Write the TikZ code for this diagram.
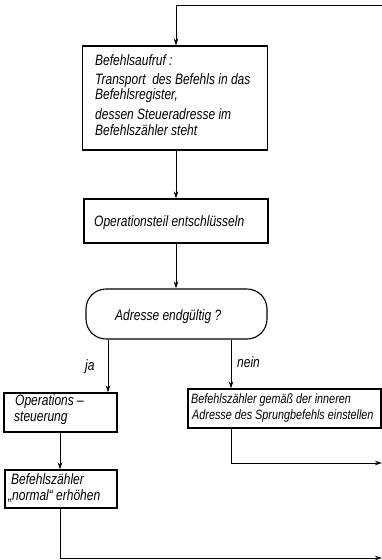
\documentclass[tikz,border=0pt]{standalone}
\usepackage{fontspec}
\newfontfamily\din[FakeStretch=0.8]{Liberation Sans}
\usetikzlibrary{arrows.meta}
\begin{document}
\begin{tikzpicture}[x=1pt,y=-1pt,
  box/.style={draw, line width=1.1pt, inner sep=0pt},
  txt/.style={font=\din\itshape\fontsize{15}{17}\selectfont, anchor=base west, inner sep=0pt},
  stxt/.style={font=\din\itshape\fontsize{13.5}{15}\selectfont, anchor=base west, inner sep=0pt},
  conn/.style={line width=0.9pt},
  arr/.style={conn, -{Stealth[length=7pt,width=4.5pt]}}]
\useasboundingbox (0,0) rectangle (382,560);
% boxes
\node[box, minimum width=185pt, minimum height=104pt] (auf) at (175,98) {};
\node[txt] (t1) at (95,65) {Befehlsaufruf :};
\node[txt] (t2) at (95,84) {Transport\ \ des Befehls in das};
\node[txt] (t3) at (95,99) {Befehlsregister,};
\node[txt] (t4) at (95,119) {dessen Steueradresse im};
\node[txt] (t5) at (95,135) {Befehlszähler steht};

\node[box, minimum width=184pt, minimum height=44pt] (ops2) at (176,221) {};
\node[txt] (t6) at (94,226) {Operationsteil entschlüsseln};

\node[box, rounded corners=20pt, minimum width=181pt, minimum height=50pt] (dec) at (176.5,314) {};
\node[txt] (t7) at (115,320) {Adresse endgültig ?};

\node[txt] (ja) at (85,370) {ja};
\node[txt] (nein) at (237,367) {nein};

\node[box, minimum width=113pt, minimum height=39pt] (ops) at (60.5,412.5) {};
\node[txt] (t8) at (15,405) {Operations –};
\node[txt] (t9) at (14,421) {steuerung};

\node[box, minimum width=193pt, minimum height=39pt] (sprung) at (284.5,408.5) {};
\node[stxt] (t10) at (191,403) {Befehlszähler gemäß der inneren};
\node[stxt] (t11) at (192,419) {Adresse des Sprungbefehls einstellen};

\node[box, minimum width=112pt, minimum height=38pt] (norm) at (61,489) {};
\node[txt] (t12) at (11,484) {Befehlszähler};
\node[txt] (t13) at (8,500) {„normal“ erhöhen};

% helper coordinates
\coordinate (cx) at (176,0);
\coordinate (jx) at (108,0);
\coordinate (nx) at (231,0);
\coordinate (lx) at (60,0);
\coordinate (topR) at (382,5);
\coordinate (outA) at (382,463);
\coordinate (outB) at (382,558);

% connectors
\draw[arr] (topR) -| (auf.north -| cx);
\draw[arr] (auf.south -| cx) -- (ops2.north -| cx);
\draw[arr] (ops2.south -| cx) -- (dec.north -| cx);
\draw[arr] (dec.south -| jx) -- (ops.north -| jx);
\draw[arr] (dec.south -| nx) -- (sprung.north -| nx);
\draw[arr] (ops.south -| lx) -- (norm.north -| lx);
\draw[arr] (sprung.south -| nx) |- (outA);
\draw[arr] (norm.south -| lx) |- (outB);
\end{tikzpicture}
\end{document}
